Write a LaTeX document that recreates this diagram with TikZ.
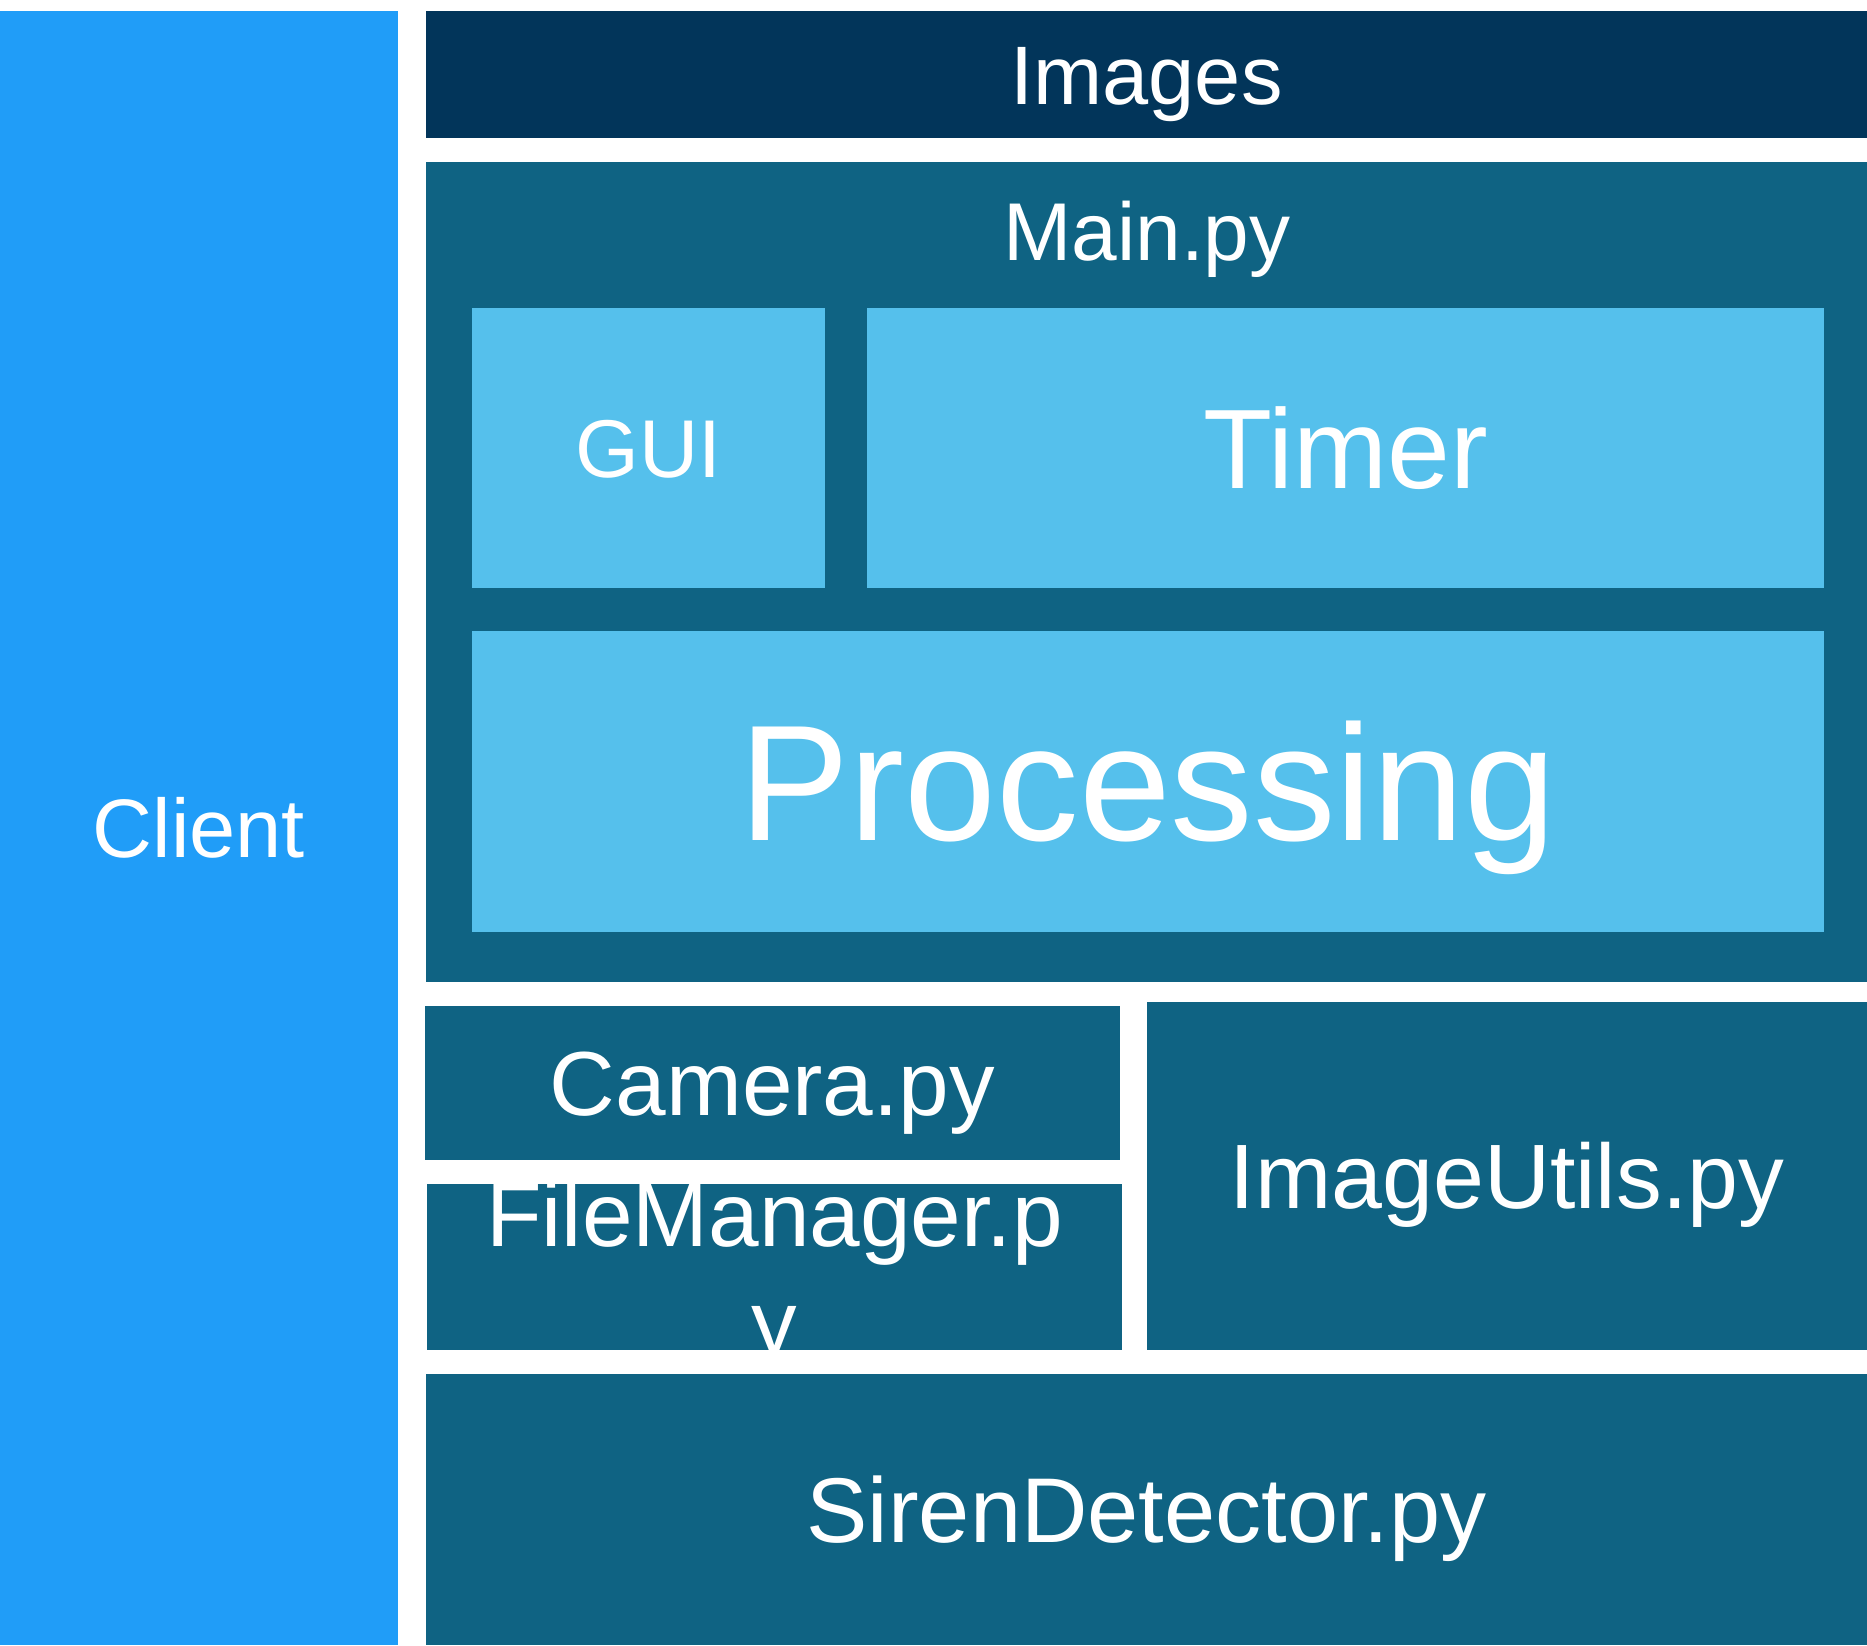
\documentclass[tikz,border=0pt]{standalone}
\usepackage{fontspec}
\setmainfont{Liberation Sans}
\usetikzlibrary{positioning}

\definecolor{clientblue}{RGB}{32,157,248}
\definecolor{imgnavy}{RGB}{2,53,90}
\definecolor{mainteal}{RGB}{15,99,131}
\definecolor{partblue}{RGB}{85,192,236}

\tikzset{
  block/.style={inner sep=0pt, outer sep=0pt, anchor=north west, text=white},
  outer/.style={block, fill=mainteal},
  part/.style={block, fill=partblue},
  % font size in pt, text box cut to the cap height
  fs/.code={\pgfmathsetmacro\capht{0.716*#1}%
    \pgfmathsetmacro\lineskp{1.19*#1}%
    \tikzset{font/.expanded=\noexpand\fontsize{#1}{\lineskp}\noexpand\selectfont,
      text height/.expanded=\capht pt, text depth=0pt}},
}

\begin{document}
\begin{tikzpicture}[x=1pt, y=-1pt]

\useasboundingbox (0,0) rectangle (1867,1645);

%left column
\node[block, fill=clientblue, minimum width=398pt, minimum height=1634pt,
  fs=83] (client) at (0,11) {Client};

%top bar
\node[block, fill=imgnavy, minimum width=1441pt, minimum height=127pt,
  fs=83] (images) at (426,11) {Images};

%main program with its parts
\node[outer, minimum width=1441pt, minimum height=820pt] (main) at (426,162) {};
\node[anchor=base, inner sep=0pt, text=white, font=\fontsize{82}{98}\selectfont]
  (mainlbl) at (1147,260) {Main.py};

\node[part, minimum width=353pt, minimum height=280pt, fs=82] (gui) at (472,308) {GUI};
\node[part, minimum width=957pt, minimum height=280pt, fs=113] (timer) at (867,308) {Timer};
\node[part, minimum width=1352pt, minimum height=301pt, fs=165] (proc) at (472,631) {Processing};

%modules
\node[outer, minimum width=695pt, minimum height=154pt, fs=91] (camera) at (425,1006) {Camera.py};
\node[outer, minimum width=695pt, minimum height=166pt] (filemgr) at (427,1184) {};
\begin{scope}
  \clip (filemgr.north west) rectangle (filemgr.south east);
  \node[anchor=base, inner sep=0pt, text=white, align=center,
    font=\fontsize{91}{108}\selectfont] (filelbl) at (774.5,1354) {FileManager.p\\y};
\end{scope}
\node[outer, minimum width=720pt, minimum height=348pt, fs=91.5] (imgutils) at (1147,1002) {ImageUtils.py};
\node[outer, minimum width=1441pt, minimum height=271pt, fs=92] (siren) at (426,1374) {SirenDetector.py};

\end{tikzpicture}
\end{document}
